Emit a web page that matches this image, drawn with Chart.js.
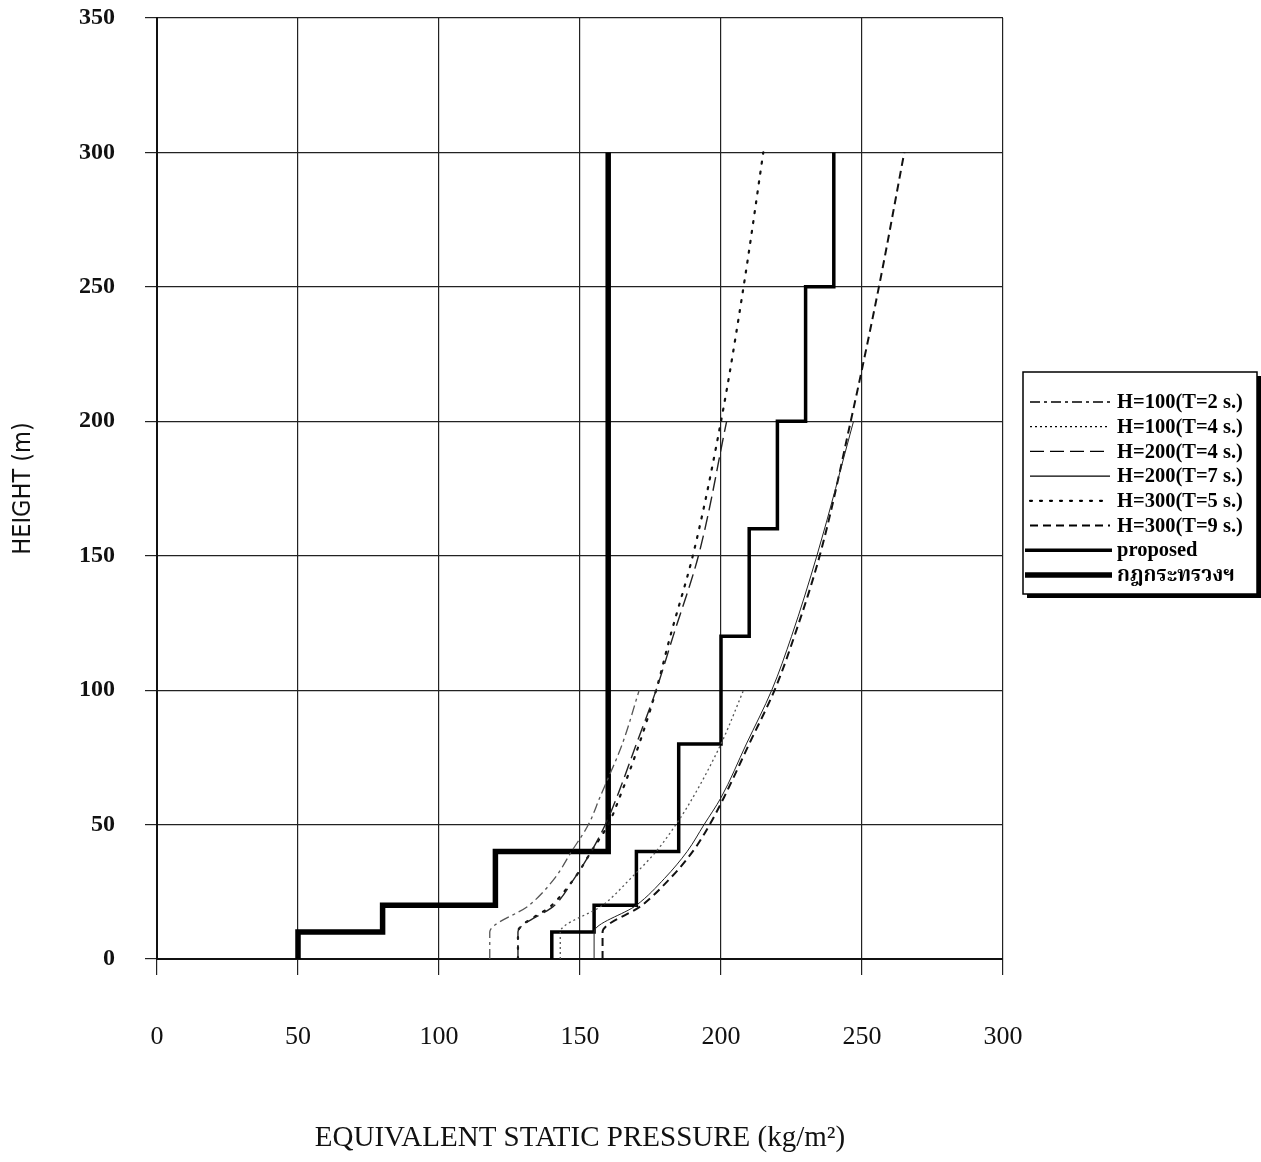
<!DOCTYPE html>
<html>
<head>
<meta charset="utf-8">
<script src="https://cdn.jsdelivr.net/npm/chart.js@4.4.1/dist/chart.umd.min.js"></script>
<style>
  html, body { margin: 0; padding: 0; background: #fff; }
  #wrap { width: 1261px; height: 1162px; position: relative; }
</style>
</head>
<body>
<div id="wrap"><canvas id="c" width="1261" height="1162"></canvas></div>
<script>
// ---- Data ----
const xTicks = [0, 50, 100, 150, 200, 250, 300];
const yTicks = [0, 50, 100, 150, 200, 250, 300, 350];

const heights100 = [0, 10, 20, 30, 40, 50, 60, 80, 100];
const heights200 = [0, 10, 20, 30, 40, 50, 60, 80, 100, 120, 150, 200];
const heights300 = [0, 10, 20, 30, 40, 50, 60, 80, 100, 120, 150, 200, 250, 300];

const pH100T2 = [118, 118, 132, 141, 147, 153, 157, 165, 171];
const pH100T4 = [143, 143, 158, 168, 177, 184, 190, 200, 208];
const pH200T4 = [128, 128, 141, 148, 154, 159, 163, 170, 177, 183, 192, 202];
const pH200T7 = [155, 155, 170, 180, 188, 194, 200, 209, 218, 225, 234, 247];
const pH300T5 = [128, 128, 140, 148, 154, 160, 164, 171, 177, 182, 190, 200, 208, 215];
const pH300T9 = [158, 158, 172, 182, 190, 196, 201, 210, 219, 226, 235, 246, 256, 265];

const proposedHeights   = [0, 10, 10, 20, 20, 40, 40, 80, 80, 120, 120, 160, 160, 200, 200, 250, 250, 300];
const proposedPressures = [140, 140, 155, 155, 170, 170, 185, 185, 200, 200, 210, 210, 220, 220, 230, 230, 240, 240];

const lawHeights   = [0, 10, 10, 20, 20, 40, 40, 300];
const lawPressures = [50, 50, 80, 80, 120, 120, 160, 160];

const labels = ['H=100(T=2 s.)', 'H=100(T=4 s.)', 'H=200(T=4 s.)', 'H=200(T=7 s.)',
                'H=300(T=5 s.)', 'H=300(T=9 s.)', 'proposed', 'กฎกระทรวงฯ'];

function pts(xs, ys) { return xs.map((x, i) => ({ x: x, y: ys[i] })); }

const curve = (label, xs, ys, color, width, dash, cap) => ({
  label, data: pts(xs, ys), borderColor: color, borderWidth: width, borderDash: dash,
  borderCapStyle: cap || 'butt', showLine: true, pointRadius: 0, fill: false,
  cubicInterpolationMode: 'monotone', indexAxis: 'y'
});
const step = (label, xs, ys, width) => ({
  label, data: pts(xs, ys), borderColor: '#000', borderWidth: width, borderDash: [],
  borderJoinStyle: 'miter', showLine: true, pointRadius: 0, fill: false, tension: 0
});

const datasets = [
  curve(labels[0], pH100T2, heights100, '#555', 1.3, [10, 4, 3, 4]),
  curve(labels[1], pH100T4, heights100, '#555', 1.3, [2, 3]),
  curve(labels[2], pH200T4, heights200, '#222', 1.4, [14, 6]),
  curve(labels[3], pH200T7, heights200, '#222', 1.0, []),
  curve(labels[4], pH300T5, heights300, '#111', 2.2, [2, 8], 'round'),
  curve(labels[5], pH300T9, heights300, '#111', 2.0, [8, 5]),
  step(labels[6], proposedPressures, proposedHeights, 3.5),
  step(labels[7], lawPressures, lawHeights, 5.5)
];

const boxLegend = {
  id: 'boxLegend',
  afterDraw(chart) {
    const ctx = chart.ctx;
    const a = chart.chartArea;
    const x0 = a.right + 20, y0 = 372, w = 234, h = 222;
    ctx.save();
    ctx.fillStyle = '#000';
    ctx.fillRect(x0 + 4, y0 + 4, w, h);
    ctx.fillStyle = '#fff';
    ctx.fillRect(x0, y0, w, h);
    ctx.lineWidth = 1.5;
    ctx.strokeStyle = '#000';
    ctx.strokeRect(x0, y0, w, h);
    chart.data.datasets.forEach((ds, i) => {
      const y = y0 + 30 + i * 24.7;
      ctx.beginPath();
      ctx.setLineDash(ds.borderDash || []);
      ctx.lineCap = ds.borderCapStyle || 'butt';
      ctx.lineWidth = Math.max(ds.borderWidth, 1.3);
      ctx.strokeStyle = '#000';
      const thick = ds.borderWidth > 3;
      ctx.moveTo(x0 + (thick ? 2 : 7), y);
      ctx.lineTo(x0 + (thick ? 89 : 87), y);
      ctx.stroke();
      ctx.setLineDash([]);
      ctx.fillStyle = '#000';
      ctx.font = "bold 20.5px 'Liberation Serif', 'Noto Serif Thai', 'Noto Sans Thai', 'Loma', 'Garuda', serif";
      ctx.textBaseline = 'middle';
      ctx.textAlign = 'left';
      ctx.fillText(ds.label, x0 + 94, y + 1);
    });
    ctx.restore();
  }
};

new Chart(document.getElementById('c'), {
  type: 'scatter',
  data: { datasets },
  plugins: [boxLegend],
  options: {
    responsive: false,
    animation: false,
    indexAxis: 'y',
    layout: { padding: { left: 0, right: 258, top: 18, bottom: 0 } },
    plugins: { legend: { display: false }, tooltip: { enabled: false } },
    scales: {
      x: {
        type: 'linear', min: 0, max: 300,
        afterBuildTicks: (s) => { s.ticks = xTicks.map(v => ({ value: v })); },
        afterFit: (s) => { s.height = 203; s.paddingLeft = 12; s.paddingRight = 20; },
        grid: { color: '#222', lineWidth: 1.2, tickLength: 16, drawTicks: true },
        border: { color: '#111', width: 2 },
        ticks: { padding: 47, color: '#111', font: { family: "'Liberation Serif', serif", size: 26 } },
        title: { display: true, text: 'EQUIVALENT STATIC PRESSURE (kg/m²)', color: '#111',
                 font: { family: "'Liberation Serif', serif", size: 29 }, padding: { top: 0, bottom: 6 } }
      },
      y: {
        type: 'linear', min: 0, max: 350,
        afterBuildTicks: (s) => { s.ticks = yTicks.map(v => ({ value: v })); },
        afterFit: (s) => { s.width = 157; s.paddingTop = 13; s.paddingBottom = 14; },
        grid: { color: '#222', lineWidth: 1.2, tickLength: 12, drawTicks: true },
        border: { color: '#111', width: 2 },
        ticks: { padding: 30, color: '#111', font: { family: "'Liberation Serif', serif", size: 24, weight: 'bold' } },
        title: { display: true, text: 'HEIGHT (m)', color: '#111',
                 font: { family: "'Liberation Sans Narrow', 'DejaVu Sans Condensed', 'Liberation Sans', sans-serif", size: 25 },
                 padding: { top: 8, bottom: 0 } }
      }
    }
  }
});
</script>
</body>
</html>
